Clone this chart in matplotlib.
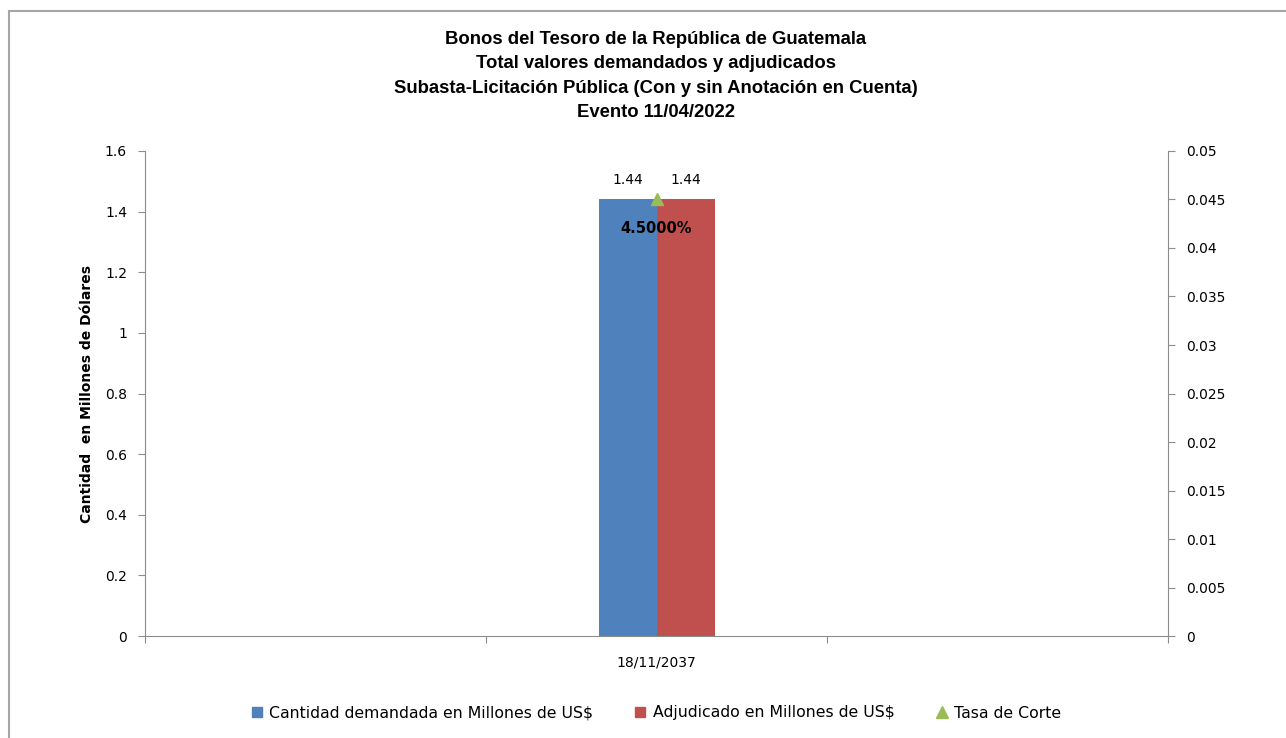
import numpy as np
import matplotlib.pyplot as plt
from matplotlib.lines import Line2D
from matplotlib.ticker import FuncFormatter

# data
fechas = ["", "18/11/2037", ""]
demandado = [np.nan, 1.44, np.nan]
adjudicado = [np.nan, 1.44, np.nan]
tasa_corte = [np.nan, 0.045, np.nan]

titulo = ("Bonos del Tesoro de la República de Guatemala\n"
          "Total valores demandados y adjudicados\n"
          "Subasta-Licitación Pública (Con y sin Anotación en Cuenta)\n"
          "Evento 11/04/2022")

azul = "#4F81BD"
rojo = "#C0504D"
verde = "#9BBB59"
gris = "#8C8C8C"

fig = plt.figure(figsize=(12.86, 7.38), dpi=100)
ax = fig.add_axes([0.1128, 0.1382, 0.7955, 0.6572])
ax2 = ax.twinx()

x = np.arange(len(fechas))
w = 0.17
ok = ~np.isnan(np.array(demandado))
ax.bar(x[ok] - w / 2, np.array(demandado)[ok], w, color=azul)
ax.bar(x[ok] + w / 2, np.array(adjudicado)[ok], w, color=rojo)
for xi, d, a in zip(x[ok], np.array(demandado)[ok], np.array(adjudicado)[ok]):
    ax.text(xi - w / 2, d + 0.065, f"{d:.2f}", ha="center", va="center",
            fontsize=10, family="DejaVu Sans")
    ax.text(xi + w / 2, a + 0.065, f"{a:.2f}", ha="center", va="center",
            fontsize=10, family="DejaVu Sans")

t = np.array(tasa_corte)
ax2.plot(x[ok], t[ok], linestyle="none", marker="^", markersize=9, color=verde)
for xi, ti in zip(x[ok], t[ok]):
    ax2.text(xi, ti - 0.003, f"{ti*100:.4f}%", ha="center", va="center",
             fontsize=10.5, fontweight="bold", family="DejaVu Sans")

ax.set_xlim(-0.5, len(fechas) - 0.5)
ax.set_ylim(0, 1.6)
ax2.set_ylim(0, 0.05)
ax.set_yticks(np.arange(0, 1.61, 0.2))
ax2.set_yticks(np.arange(0, 0.0501, 0.005))
fmt = FuncFormatter(lambda v, p: f"{v:.3f}".rstrip("0").rstrip(".") if v else "0")
fmt1 = FuncFormatter(lambda v, p: f"{v:.1f}".rstrip("0").rstrip(".") if v else "0")
ax.yaxis.set_major_formatter(fmt1)
ax2.yaxis.set_major_formatter(fmt)

ax.set_xticks(np.arange(-0.5, len(fechas), 1.0))
ax.set_xticklabels([])
ax.set_xticks(x, minor=True)
ax.set_xticklabels(fechas, minor=True)
ax.tick_params(axis="x", which="minor", length=0, pad=14, labelsize=10)
ax.tick_params(axis="x", which="major", length=5, color=gris)
ax.tick_params(axis="y", length=5, color=gris, labelsize=10, pad=8)
ax2.tick_params(axis="y", length=5, color=gris, labelsize=10, pad=8)

for a in (ax, ax2):
    a.spines["top"].set_visible(False)
    for s in ("left", "right", "bottom"):
        a.spines[s].set_color(gris)
ax.spines["right"].set_visible(False)
ax2.spines["left"].set_visible(False)
ax2.spines["bottom"].set_visible(False)

ax.set_ylabel("Cantidad  en Millones de Dólares", fontsize=10,
              fontweight="bold", family="DejaVu Sans")
ax.yaxis.set_label_coords(-0.05, 0.5)

fig.text(0.51, 0.897, titulo, ha="center", va="center", fontsize=13.3,
         fontweight="bold", family="Liberation Sans", linespacing=1.55)

handles = [
    Line2D([], [], linestyle="none", marker="s", markersize=7, color=azul),
    Line2D([], [], linestyle="none", marker="s", markersize=7, color=rojo),
    Line2D([], [], linestyle="none", marker="^", markersize=8, color=verde),
]
labels = ["Cantidad demandada en Millones de US$",
          "Adjudicado en Millones de US$", "Tasa de Corte"]
fig.legend(handles, labels, loc="center", bbox_to_anchor=(0.51, 1 - 713 / 738),
           ncol=3, frameon=False, handlelength=0.8, handletextpad=0.4,
           columnspacing=2.6, prop={"family": "DejaVu Sans", "size": 11.3})

# chart frame (top and left edges visible)
fig.add_artist(Line2D([9 / 1286, 9 / 1286], [0, 1 - 11 / 738], color="#A6A6A6", lw=1.5))
fig.add_artist(Line2D([9 / 1286, 1], [1 - 11 / 738, 1 - 11 / 738], color="#A6A6A6", lw=1.5))

fig.savefig("out.png", dpi=100, facecolor="white")
